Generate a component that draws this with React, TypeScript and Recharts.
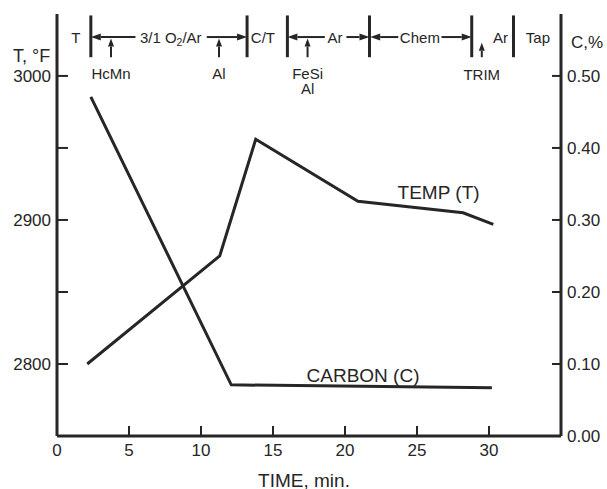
import React from "react";
import {
  LineChart,
  Line,
  XAxis,
  YAxis,
  ReferenceLine,
  ReferenceDot,
} from "recharts";

// temperature curve (deg F) and carbon curve (%), time in minutes
const tempTime = [2.1, 11.3, 13.8, 20.9, 28.2, 30.3];
const tempValue = [2800, 2875, 2956, 2913, 2905, 2897];
const carbonTime = [2.35, 12.1, 30.2];
const carbonValue = [0.471, 0.071, 0.067];

const timeTicks = [0, 5, 10, 15, 20, 25, 30];
const tempTicks = [2800, 2850, 2900, 2950, 3000];
const carbonTicks = [0, 0.1, 0.2, 0.3, 0.4, 0.5];

// process stages along the top strip
const stageBounds = [2.35, 13.2, 16.0, 21.7, 28.8, 31.7];
const stageArrowFrom = [5.45, 10.4, 18.6, 20.1, 23.7, 26.7];
const stageArrowTo = [2.35, 13.2, 16.0, 21.7, 21.75, 28.8];
const stageNames = ["T", "3/1 O₂/Ar", "C/T", "Ar", "Chem", "Ar", "Tap"];
const stageNameTime = [1.3, 7.9, 14.3, 19.3, 25.2, 30.8, 33.4];

// additions
const additionTime = [3.75, 11.25, 17.4, 29.5];
const additionTop = [3026, 3026, 3026, 3023];
const additionNames = ["HcMn", "Al", "FeSi", "Al", "TRIM"];
const additionNameTime = [3.75, 11.25, 17.4, 17.4, 29.5];
const additionNameTemp = [3002, 3002, 3002, 2991, 3001];

const seriesNames = ["TEMP (T)", "CARBON (C)"];
const seriesNameTime = [26.5, 21.25];
const seriesNameTemp = [2919, 2792];

const tempData = tempTime.map((t, i) => ({ t, v: tempValue[i] }));
const carbonData = carbonTime.map((t, i) => ({ t, v: carbonValue[i] }));

const INK = "#262626";
const FONT = "'Liberation Sans', Arial, Helvetica, sans-serif";

function withSub(text: string) {
  const parts = text.split("₂");
  if (parts.length === 1) return text;
  return [
    <tspan key="a">{parts[0]}</tspan>,
    <tspan key="b" dy={5} fontSize="0.7em">2</tspan>,
    <tspan key="c" dy={-5}>{parts[1]}</tspan>,
  ];
}

const textShape = (text: string, size: number) => (p: any) => (
  <text
    x={p.cx}
    y={p.cy}
    textAnchor="middle"
    dominantBaseline="central"
    fontFamily={FONT}
    fontSize={size}
    fill={INK}
  >
    {withSub(text)}
  </text>
);

const arrowShape = (head: number, half: number) => (p: any) => {
  const { x1, y1, x2, y2 } = p;
  const dx = x2 - x1;
  const dy = y2 - y1;
  const len = Math.sqrt(dx * dx + dy * dy) || 1;
  const ux = dx / len;
  const uy = dy / len;
  const bx = x2 - ux * head;
  const by = y2 - uy * head;
  return (
    <g>
      <line x1={x1} y1={y1} x2={bx} y2={by} stroke={INK} strokeWidth={2} />
      <polygon
        points={`${x2},${y2} ${bx - uy * half},${by + ux * half} ${bx + uy * half},${by - ux * half}`}
        fill={INK}
      />
    </g>
  );
};

const axisTitle =
  (text: string, dx: number, dy: number, anchor: string, size: number) =>
  (props: any) => {
    const vb = props.viewBox || {};
    return (
      <text
        x={vb.x + dx}
        y={vb.y + dy}
        textAnchor={anchor}
        dominantBaseline="central"
        fontFamily={FONT}
        fontSize={size}
        fill={INK}
      >
        {text}
      </text>
    );
  };

export default function App() {
  const tick = { fontFamily: FONT, fontSize: 17, fill: INK };
  return (
    <div style={{ position: "absolute", left: 0, top: 0, background: "#fff" }}>
      <LineChart
        width={607}
        height={489}
        margin={{ top: 14, right: 0, bottom: 0, left: 0 }}
      >
        <XAxis
          dataKey="t"
          type="number"
          domain={[0, 35]}
          ticks={timeTicks}
          allowDataOverflow
          height={53}
          tickSize={-10}
          tickMargin={18}
          tick={tick}
          axisLine={{ stroke: INK, strokeWidth: 3 }}
          tickLine={{ stroke: INK, strokeWidth: 2 }}
          label={axisTitle("TIME, min.", 247, 44, "middle", 19)}
        />
        <YAxis
          yAxisId="T"
          width={57}
          domain={[2750, 3043]}
          ticks={tempTicks}
          allowDataOverflow
          tickFormatter={(v: number) => (v % 100 === 0 ? String(v) : "")}
          tickSize={-11}
          tickMargin={17}
          tick={tick}
          axisLine={{ stroke: INK, strokeWidth: 3 }}
          tickLine={{ stroke: INK, strokeWidth: 2 }}
          label={axisTitle("T, °F", 13, 42, "start", 18)}
        />
        <YAxis
          yAxisId="C"
          orientation="right"
          width={46}
          domain={[0, 0.586]}
          ticks={carbonTicks}
          allowDataOverflow
          tickFormatter={(v: number) => v.toFixed(2)}
          tickSize={-9}
          tickMargin={15}
          tick={tick}
          axisLine={{ stroke: INK, strokeWidth: 3 }}
          tickLine={{ stroke: INK, strokeWidth: 2 }}
          label={axisTitle("C,%", 10, 28, "start", 17)}
        />

        <Line
          yAxisId="T"
          data={tempData}
          dataKey="v"
          type="linear"
          stroke={INK}
          strokeWidth={3}
          dot={false}
          isAnimationActive={false}
        />
        <Line
          yAxisId="C"
          data={carbonData}
          dataKey="v"
          type="linear"
          stroke={INK}
          strokeWidth={3}
          dot={false}
          isAnimationActive={false}
        />

        {stageBounds.map((t, i) => (
          <ReferenceLine
            key={`b${i}`}
            yAxisId="T"
            segment={[
              { x: t, y: 3013 },
              { x: t, y: 3042 },
            ]}
            stroke={INK}
            strokeWidth={3}
          />
        ))}
        {stageArrowFrom.map((t, i) => (
          <ReferenceLine
            key={`a${i}`}
            yAxisId="T"
            segment={[
              { x: t, y: 3027 },
              { x: stageArrowTo[i], y: 3027 },
            ]}
            shape={arrowShape(10, 3.5)}
          />
        ))}
        {additionTime.map((t, i) => (
          <ReferenceLine
            key={`u${i}`}
            yAxisId="T"
            segment={[
              { x: t, y: 3013 },
              { x: t, y: additionTop[i] },
            ]}
            shape={arrowShape(8, 3)}
          />
        ))}
        {stageNames.map((s, i) => (
          <ReferenceDot
            key={`s${i}`}
            yAxisId="T"
            x={stageNameTime[i]}
            y={3027}
            shape={textShape(s, 15)}
          />
        ))}
        {additionNames.map((s, i) => (
          <ReferenceDot
            key={`n${i}`}
            yAxisId="T"
            x={additionNameTime[i]}
            y={additionNameTemp[i]}
            shape={textShape(s, 15)}
          />
        ))}
        {seriesNames.map((s, i) => (
          <ReferenceDot
            key={`l${i}`}
            yAxisId="T"
            x={seriesNameTime[i]}
            y={seriesNameTemp[i]}
            shape={textShape(s, 19)}
          />
        ))}
      </LineChart>
    </div>
  );
}
